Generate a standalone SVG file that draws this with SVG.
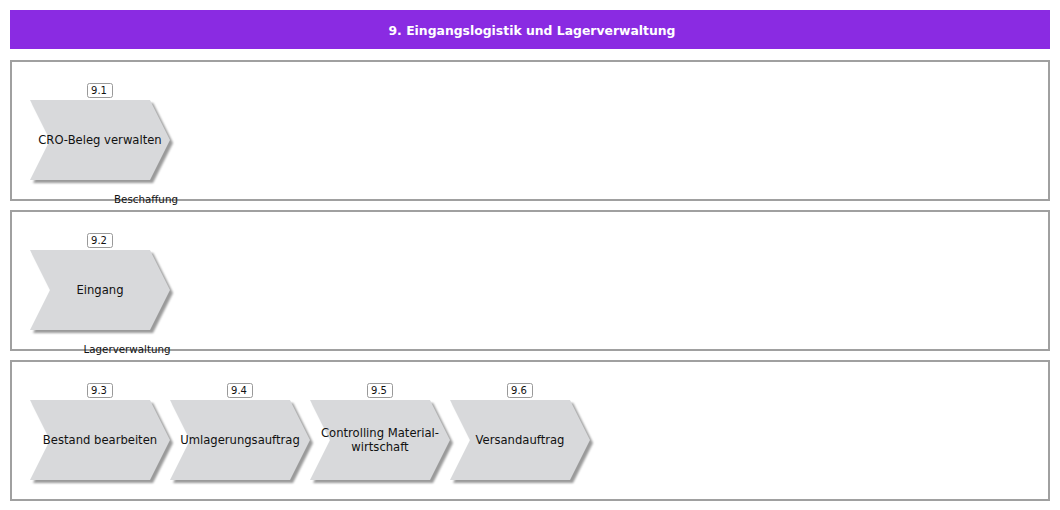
<svg xmlns="http://www.w3.org/2000/svg" width="1060" height="510" viewBox="0 0 1060 510">
<defs>
<filter id="sh" x="-10%" y="-10%" width="130%" height="130%">
<feGaussianBlur stdDeviation="1"/>
</filter>
<path id="chev" d="M0,0 L120,0 L140,40 L120,80 L0,80 L20,40 Z"/>
</defs>
<style>
.title{font-family:"DejaVu Sans",Verdana,sans-serif;font-size:12.4px;font-weight:bold;fill:#fff}
.lane{fill:#fff;stroke:#a0a0a0;stroke-width:2}
.shape{fill:#d8d9db}
.shadow{fill:#9a9a9a;filter:url(#sh)}
.t{font-family:"DejaVu Sans",Verdana,sans-serif;font-size:11.6px;fill:#111;text-anchor:middle}
.nb{fill:#fff;stroke:#999;stroke-width:1}
.n{font-family:"DejaVu Sans",Verdana,sans-serif;font-size:10px;fill:#111;text-anchor:middle}
.lbl{font-family:"DejaVu Sans",Verdana,sans-serif;font-size:10.3px;fill:#111;text-anchor:middle}
</style>
<rect width="1060" height="510" fill="#fff"/>
<g id="title">
<rect x="10" y="10" width="1040" height="39" fill="#8a2be2"/>
<text class="title" x="532" y="35" text-anchor="middle">9. Eingangslogistik und Lagerverwaltung</text>
</g>
<g id="lanes">
<rect id="lane1" class="lane" x="11" y="61" width="1038" height="139"/>
<rect id="lane2" class="lane" x="11" y="211" width="1038" height="139"/>
<rect id="lane3" class="lane" x="11" y="361" width="1038" height="139"/>
</g>
<g id="connectors"></g>
<g id="n91">
<use href="#chev" class="shadow" x="33" y="103"/>
<use href="#chev" class="shape" x="30" y="100"/>
<text class="t" x="100" y="144">CRO-Beleg verwalten</text>
<rect class="nb" x="87.5" y="83.5" width="25" height="14" rx="2"/>
<text class="n" x="99" y="94">9.1</text>
</g>
<g id="n92">
<use href="#chev" class="shadow" x="33" y="253"/>
<use href="#chev" class="shape" x="30" y="250"/>
<text class="t" x="100" y="294">Eingang</text>
<rect class="nb" x="87.5" y="233.5" width="25" height="14" rx="2"/>
<text class="n" x="99" y="244">9.2</text>
</g>
<g id="n93">
<use href="#chev" class="shadow" x="33" y="403"/>
<use href="#chev" class="shape" x="30" y="400"/>
<text class="t" x="100" y="444">Bestand bearbeiten</text>
<rect class="nb" x="87.5" y="383.5" width="25" height="14" rx="2"/>
<text class="n" x="99" y="394">9.3</text>
</g>
<g id="n94">
<use href="#chev" class="shadow" x="173" y="403"/>
<use href="#chev" class="shape" x="170" y="400"/>
<text class="t" x="240" y="444">Umlagerungsauftrag</text>
<rect class="nb" x="227.5" y="383.5" width="25" height="14" rx="2"/>
<text class="n" x="239" y="394">9.4</text>
</g>
<g id="n95">
<use href="#chev" class="shadow" x="313" y="403"/>
<use href="#chev" class="shape" x="310" y="400"/>
<text class="t" x="380" y="437">Controlling Material-</text>
<text class="t" x="380" y="451">wirtschaft</text>
<rect class="nb" x="367.5" y="383.5" width="25" height="14" rx="2"/>
<text class="n" x="379" y="394">9.5</text>
</g>
<g id="n96">
<use href="#chev" class="shadow" x="453" y="403"/>
<use href="#chev" class="shape" x="450" y="400"/>
<text class="t" x="520" y="444">Versandauftrag</text>
<rect class="nb" x="507.5" y="383.5" width="25" height="14" rx="2"/>
<text class="n" x="519" y="394">9.6</text>
</g>
<g id="laneLabels">
<text class="lbl" x="146" y="203">Beschaffung</text>
<text class="lbl" x="127" y="353">Lagerverwaltung</text>
</g>
</svg>
